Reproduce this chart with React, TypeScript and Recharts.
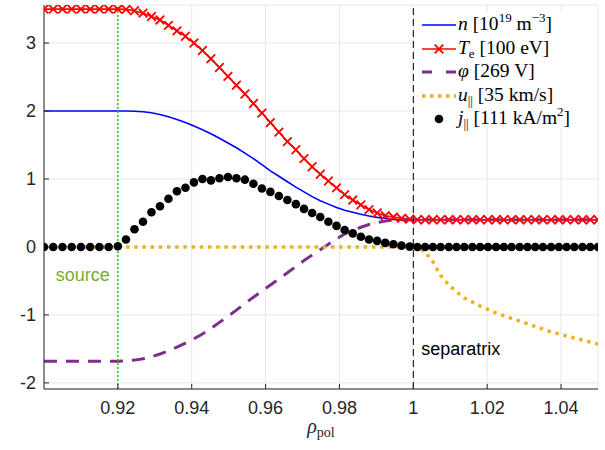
import React from "react";
import {
  LineChart,
  Line,
  XAxis,
  YAxis,
  CartesianGrid,
  ReferenceLine,
  ReferenceDot,
  Label,
} from "recharts";

// radial grid (rho_pol), shared by all profiles
const rho = [
  0.9, 0.9025, 0.905, 0.9075, 0.91, 0.9125, 0.915, 0.9175, 0.92,
  0.9222, 0.9245, 0.9268, 0.9291, 0.9314, 0.9337, 0.936, 0.9383, 0.9406, 0.9429,
  0.9452, 0.9475, 0.9498, 0.9521, 0.9544, 0.9567, 0.959, 0.9613, 0.9636, 0.9659,
  0.9682, 0.9704, 0.9726, 0.9748, 0.977, 0.9792, 0.9814, 0.9836, 0.9858, 0.988,
  0.9902, 0.9924, 0.9946, 0.9968, 0.999,
  1.0011, 1.0032, 1.0053, 1.0074, 1.0096, 1.0117, 1.0138, 1.016, 1.0181, 1.0202,
  1.0224, 1.0245, 1.0266, 1.0288, 1.0309, 1.033, 1.0351, 1.0373, 1.0394, 1.0415,
  1.0436, 1.0458, 1.0479, 1.05,
];

const nVals = [
  2, 2, 2, 2, 2, 2, 2, 2, 2,
  2, 1.997, 1.99, 1.975, 1.95, 1.915, 1.875, 1.83, 1.78, 1.725,
  1.665, 1.6, 1.53, 1.46, 1.38, 1.3, 1.21, 1.12, 1.04, 0.96,
  0.88, 0.81, 0.74, 0.68, 0.63, 0.58, 0.54, 0.51, 0.48, 0.455,
  0.435, 0.42, 0.405, 0.4, 0.4,
  0.4, 0.4, 0.4, 0.4, 0.4, 0.4, 0.4, 0.4, 0.4, 0.4,
  0.4, 0.4, 0.4, 0.4, 0.4, 0.4, 0.4, 0.4, 0.4, 0.4,
  0.4, 0.4, 0.4, 0.4,
];

const teVals = [
  3.5, 3.5, 3.5, 3.5, 3.5, 3.5, 3.5, 3.5, 3.5,
  3.495, 3.475, 3.44, 3.39, 3.34, 3.26, 3.18, 3.1, 3.0, 2.89,
  2.77, 2.64, 2.51, 2.38, 2.25, 2.11, 1.97, 1.83, 1.69, 1.55,
  1.43, 1.3, 1.18, 1.07, 0.97, 0.87, 0.77, 0.69, 0.62, 0.55,
  0.5, 0.46, 0.44, 0.42, 0.41,
  0.4, 0.4, 0.4, 0.4, 0.4, 0.4, 0.4, 0.4, 0.4, 0.4,
  0.4, 0.4, 0.4, 0.4, 0.4, 0.4, 0.4, 0.4, 0.4, 0.4,
  0.4, 0.4, 0.4, 0.4,
];

const phiVals = [
  -1.68, -1.68, -1.68, -1.68, -1.68, -1.68, -1.68, -1.68, -1.68,
  -1.675, -1.665, -1.645, -1.615, -1.575, -1.53, -1.475, -1.415, -1.35, -1.28,
  -1.2, -1.11, -1.02, -0.93, -0.83, -0.74, -0.65, -0.56, -0.47, -0.38,
  -0.29, -0.2, -0.12, -0.04, 0.04, 0.12, 0.19, 0.25, 0.29, 0.33,
  0.36, 0.38, 0.395, 0.4, 0.4,
  0.4, 0.4, 0.4, 0.4, 0.4, 0.4, 0.4, 0.4, 0.4, 0.4,
  0.4, 0.4, 0.4, 0.4, 0.4, 0.4, 0.4, 0.4, 0.4, 0.4,
  0.4, 0.4, 0.4, 0.4,
];

const uVals = [
  0, 0, 0, 0, 0, 0, 0, 0, 0,
  0, 0, 0, 0, 0, 0, 0, 0, 0, 0,
  0, 0, 0, 0, 0, 0, 0, 0, 0, 0,
  0, 0, 0, 0, 0, 0, 0, 0, 0, 0,
  0, 0, 0, 0, 0,
  -0.01, -0.07, -0.22, -0.42, -0.56, -0.66, -0.75, -0.81, -0.87, -0.92,
  -0.97, -1.01, -1.05, -1.09, -1.13, -1.17, -1.21, -1.25, -1.28, -1.31,
  -1.34, -1.37, -1.4, -1.43,
];

const jVals = [
  0, 0, 0, 0, 0, 0, 0, 0, 0.01,
  0.11, 0.26, 0.37, 0.51, 0.6, 0.71, 0.82, 0.87, 0.95, 1.0,
  0.98, 1.01, 1.03, 1.01, 0.99, 0.93, 0.86, 0.81, 0.75, 0.69,
  0.63, 0.56, 0.5, 0.44, 0.37, 0.31, 0.25, 0.2, 0.15, 0.11,
  0.09, 0.06, 0.04, 0.02, 0.005,
  0, 0, 0, 0, 0, 0, 0, 0, 0, 0,
  0, 0, 0, 0, 0, 0, 0, 0, 0, 0,
  0, 0, 0, 0,
];

const xTicks = [0.92, 0.94, 0.96, 0.98, 1, 1.02, 1.04];
const yTicks = [-2, -1, 0, 1, 2, 3];
const sourceRho = 0.92;
const separatrixRho = 1;

const C_N = "#0000ff";
const C_TE = "#ff0000";
const C_PHI = "#7e2f8e";
const C_U = "#edb120";
const C_J = "#000000";
const AXIS = "#262626";
const SANS = "'Liberation Sans', Arial, Helvetica, sans-serif";
const SERIF = "'Liberation Serif', 'DejaVu Serif', serif";

const data = rho.map((r, i) => ({
  rho: r,
  n: nVals[i],
  te: teVals[i],
  phi: phiVals[i],
  u: uVals[i],
  j: jVals[i],
}));

const fmtX = (v: number) => String(+v.toFixed(2));

function XMark(props: any) {
  const { cx, cy } = props;
  if (cx == null || cy == null) return null;
  const s = 4.3;
  return (
    <path
      key={`x-${props.index}`}
      d={`M${cx - s},${cy - s}L${cx + s},${cy + s}M${cx - s},${cy + s}L${cx + s},${cy - s}`}
      stroke={C_TE}
      strokeWidth={1.8}
      fill="none"
    />
  );
}

function RhoLabel(props: any) {
  const vb = props.viewBox || {};
  const cx = vb.x + vb.width / 2;
  return (
    <text x={cx} y={vb.y + 44} textAnchor="middle" fontFamily={SERIF} fontSize={20} fill={AXIS}>
      <tspan fontStyle="italic">ρ</tspan>
      <tspan fontSize={14} dy={4}>pol</tspan>
    </text>
  );
}

const sup = { fontSize: 13, verticalAlign: "8px", lineHeight: 0 } as const;
const sub = { fontSize: 13, verticalAlign: "-4px", lineHeight: 0 } as const;

function Sample({ kind }: { kind: string }) {
  return (
    <svg width={34} height={20} style={{ display: "block" }}>
      {kind === "n" && <line x1={0} x2={34} y1={10} y2={10} stroke={C_N} strokeWidth={1.6} />}
      {kind === "te" && (
        <g>
          <line x1={0} x2={34} y1={10} y2={10} stroke={C_TE} strokeWidth={1.6} />
          <path d="M12.7,5.7L21.3,14.3M12.7,14.3L21.3,5.7" stroke={C_TE} strokeWidth={1.8} />
        </g>
      )}
      {kind === "phi" && (
        <line x1={0} x2={34} y1={10} y2={10} stroke={C_PHI} strokeWidth={3} strokeDasharray="10 14" />
      )}
      {kind === "u" && (
        <line x1={0} x2={34} y1={10} y2={10} stroke={C_U} strokeWidth={3.5} strokeDasharray="3.5 4.5" />
      )}
      {kind === "j" && <circle cx={17} cy={10} r={4.3} fill={C_J} />}
    </svg>
  );
}

const legendRows = [
  {
    kind: "n",
    text: (
      <>
        <i>n</i>&nbsp;[10<span style={sup}>19</span>&nbsp;m<span style={sup}>−3</span>]
      </>
    ),
  },
  {
    kind: "te",
    text: (
      <>
        <i>T</i>
        <span style={sub}>e</span>&nbsp;[100 eV]
      </>
    ),
  },
  { kind: "phi", text: <><i>φ</i>&nbsp;[269 V]</> },
  {
    kind: "u",
    text: (
      <>
        <i>u</i>
        <span style={sub}>||</span>&nbsp;[35 km/s]
      </>
    ),
  },
  {
    kind: "j",
    text: (
      <>
        <i>j</i>
        <span style={sub}>||</span>&nbsp;[111 kA/m<span style={sup}>2</span>]
      </>
    ),
  },
];

function ProfileLegend() {
  return (
    <div
      style={{
        position: "absolute",
        left: 415,
        top: 12,
        width: 182,
        height: 116,
        background: "#fff",
        fontFamily: SERIF,
        fontSize: 19.5,
        color: "#000",
      }}
    >
      <div style={{ paddingTop: 1.5 }}>
        {legendRows.map((r) => (
          <div key={r.kind} style={{ display: "flex", alignItems: "center", height: 23.5 }}>
            <div style={{ marginLeft: 7 }}>
              <Sample kind={r.kind} />
            </div>
            <div style={{ marginLeft: 2, whiteSpace: "nowrap", position: "relative", top: -1 }}>{r.text}</div>
          </div>
        ))}
      </div>
    </div>
  );
}

export default function App() {
  return (
    <div style={{ position: "absolute", left: 0, top: 0, width: 605, height: 450, background: "#fff" }}>
      <LineChart width={605} height={450} data={data} margin={{ top: 5, right: 7, bottom: 0, left: 0 }}>
        <CartesianGrid stroke="#e6e6e6" strokeWidth={1} />
        <XAxis
          dataKey="rho"
          type="number"
          domain={[0.9, 1.05]}
          ticks={xTicks}
          tickFormatter={fmtX}
          allowDataOverflow
          height={61}
          stroke={AXIS}
          tickSize={-5}
          tickMargin={17}
          tick={{ fill: AXIS, fontSize: 18, fontFamily: SANS }}
        >
          <Label content={RhoLabel} />
        </XAxis>
        <XAxis
          xAxisId="top"
          orientation="top"
          dataKey="rho"
          type="number"
          domain={[0.9, 1.05]}
          ticks={xTicks}
          allowDataOverflow
          height={0}
          stroke={AXIS}
          tickSize={-5}
          tick={false}
        />
        <YAxis
          type="number"
          domain={[-2.09, 3.56]}
          ticks={yTicks}
          allowDataOverflow
          width={44}
          stroke={AXIS}
          tickSize={-5}
          tickMargin={13}
          tick={{ fill: AXIS, fontSize: 18, fontFamily: SANS }}
        />
        <YAxis
          yAxisId="right"
          orientation="right"
          type="number"
          domain={[-2.09, 3.56]}
          ticks={yTicks}
          allowDataOverflow
          width={0}
          stroke={AXIS}
          tickSize={-5}
          tick={false}
        />
        <Line dataKey="n" type="linear" stroke={C_N} strokeWidth={1.6} dot={false} isAnimationActive={false} />
        <Line dataKey="te" type="linear" stroke={C_TE} strokeWidth={1.6} dot={XMark} isAnimationActive={false} />
        <Line
          dataKey="phi"
          type="linear"
          stroke={C_PHI}
          strokeWidth={3}
          strokeDasharray="13 9"
          dot={false}
          isAnimationActive={false}
        />
        <Line
          dataKey="u"
          type="linear"
          stroke={C_U}
          strokeWidth={3.5}
          strokeDasharray="3.4 4.8"
          dot={false}
          isAnimationActive={false}
        />
        <Line
          dataKey="j"
          type="linear"
          stroke="none"
          dot={{ r: 4.3, fill: C_J, stroke: C_J, strokeWidth: 0 }}
          isAnimationActive={false}
        />
        <ReferenceLine x={sourceRho} stroke="#00e600" strokeWidth={1.5} strokeDasharray="2 2" />
        <ReferenceLine x={separatrixRho} stroke="#000" strokeWidth={1} strokeDasharray="7 4" />
        <ReferenceDot
          x={sourceRho}
          y={-0.4}
          r={0}
          fill="none"
          stroke="none"
          label={{ value: "source", position: "left", offset: 8, fill: "#77ac30", fontSize: 18, fontFamily: SANS }}
        />
        <ReferenceDot
          x={separatrixRho}
          y={-1.5}
          r={0}
          fill="none"
          stroke="none"
          label={{ value: "separatrix", position: "right", offset: 8, fill: "#000", fontSize: 18, fontFamily: SANS }}
        />
      </LineChart>
      <ProfileLegend />
    </div>
  );
}
